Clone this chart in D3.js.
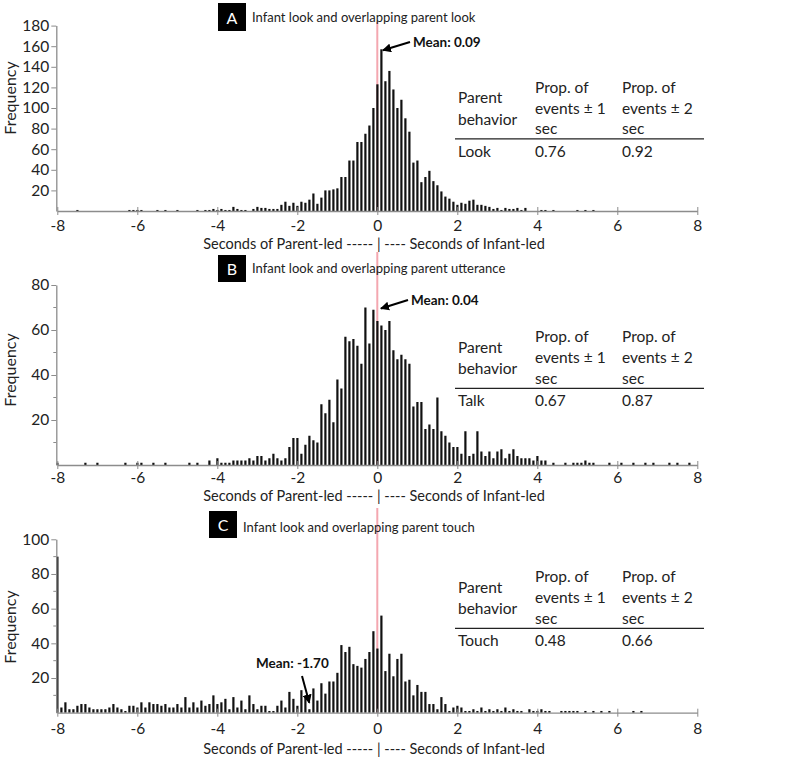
<!DOCTYPE html>
<html><head><meta charset="utf-8">
<script src="https://cdn.jsdelivr.net/npm/d3@7"></script>
<style>
body{margin:0;background:#fff;}
svg{display:block;font-family:Lato,"Open Sans",sans-serif;}
</style>
</head><body>
<svg id="chart" width="800" height="761"></svg>
<script>
// ---- data ----
const binStart = -8.0, binStep = 0.1;   // bins from -8.0 to 8.0 sec
const xTicks = [-8, -6, -4, -2, 0, 2, 4, 6, 8];

const lookFreq = [
  0,0,0,0,0,1,0,0,0,0,
  0,0,0,0,0,0,0,0,1,1,
  1,1,0,0,0,1,0,1,0,0,
  1,0,0,0,0,1,0,1,1,2,
  1,2,1,1,4,2,1,1,0,2,
  4,3,3,2,2,2,6,9,5,8,
  5,9,8,11,17,7,13,20,20,21,
  22,33,33,49,49,67,67,75,83,100,
  123,157,126,136,118,100,108,90,77,47,
  49,28,33,39,29,25,19,14,12,9,
  6,8,7,10,11,6,6,5,4,2,
  3,1,3,2,2,3,1,3,0,0,
  0,1,1,0,1,0,0,0,0,0,
  1,0,1,0,1,0,0,0,0,0,
  0,0,0,0,0,0,0,0,0,0,
  0,0,0,0,0,0,0,0,0,0,
  0
];
const talkFreq = [
  1,0,0,0,0,0,0,1,0,0,
  1,0,0,0,0,0,0,1,0,0,
  1,1,0,0,1,0,0,1,0,0,
  0,0,0,1,0,1,0,0,2,0,
  3,1,1,1,2,2,2,2,3,2,
  4,4,2,3,5,3,2,3,8,12,
  12,5,9,13,11,10,27,23,29,19,
  38,34,57,55,56,53,45,70,54,69,
  64,62,60,64,51,47,49,47,45,26,
  28,28,16,18,16,30,15,13,10,8,
  8,5,15,4,5,15,6,4,6,3,
  6,7,3,5,7,4,3,3,3,2,
  4,2,2,0,1,0,0,1,0,1,
  1,1,2,1,1,0,0,0,1,0,
  0,1,0,0,1,0,0,1,0,1,
  0,0,0,1,0,1,0,0,1,0,
  0
];
const touchFreq = [
  90,3,6,2,2,4,5,5,3,2,
  2,2,2,3,5,3,2,1,4,4,
  3,6,3,6,5,5,4,5,3,3,
  5,3,9,3,6,3,7,4,5,10,
  5,6,8,2,9,3,7,2,10,5,
  2,4,4,1,1,4,7,3,12,8,
  4,13,10,2,14,7,17,11,18,18,
  23,39,35,38,28,27,26,31,35,47,
  37,56,24,34,21,31,34,18,19,10,
  16,12,12,5,5,2,9,5,1,3,
  4,3,1,1,2,1,3,1,2,1,
  2,1,3,1,2,1,1,0,2,1,
  1,2,1,1,0,0,1,1,1,1,
  1,0,1,0,1,0,1,0,1,0,
  0,0,0,0,1,0,1,0,0,0,
  0,0,0,0,0,0,0,0,0,0,
  0
];

const panelLetters = ["A", "B", "C"];
const panelTitles = [
  "Infant look and overlapping parent look",
  "Infant look and overlapping parent utterance",
  "Infant look and overlapping parent touch"
];
const yMaxes = [180, 80, 100];
const yMajorTicks = [
  [20, 40, 60, 80, 100, 120, 140, 160, 180],
  [20, 40, 60, 80],
  [20, 40, 60, 80, 100]
];
const yMinorTicks = [
  [],
  [10, 30, 50, 70],
  [10, 30, 50, 70, 90]
];
const means = [0.09, 0.04, -1.70];
const meanLabels = ["Mean: 0.09", "Mean: 0.04", "Mean: -1.70"];
const meanArrowFreq = [157, 70, 4];
const behaviors = ["Look", "Talk", "Touch"];
const propWithin1 = ["0.76", "0.67", "0.48"];
const propWithin2 = ["0.92", "0.87", "0.66"];
const xAxisLabel = "Seconds of Parent-led ----- | ---- Seconds of Infant-led";

// ---- layout ----
const layout = [
  {base: 211, top: 25.6, box: [218, 3, 28, 28], titleX: 252, titleY: 17, pinkTop: 22,
   freqY: 98, tickDy: 14, xlabY: 243, tableDy: 0,
   meanText: [413, 42], arrowFrom: [410, 42]},
  {base: 465, top: 285, box: [218, 255, 28, 27], titleX: 252, titleY: 268, pinkTop: 252,
   freqY: 370, tickDy: 12, xlabY: 495, tableDy: 249.5,
   meanText: [411, 300], arrowFrom: [408, 300]},
  {base: 712.7, top: 539.3, box: [209, 511, 28, 27], titleX: 243, titleY: 527, pinkTop: 508,
   freqY: 627, tickDy: 15, xlabY: 748, tableDy: 489.5,
   meanText: [256, 663], arrowFrom: [302, 676]}
];
const freqs = [lookFreq, talkFreq, touchFreq];

const svg = d3.select("#chart");
const x = d3.scaleLinear().domain([-8, 8]).range([57.3, 697.3]);

const defs = svg.append("defs");
defs.append("marker").attr("id", "ah").attr("viewBox", "0 0 10 10")
  .attr("refX", 9).attr("refY", 5).attr("markerWidth", 4.5).attr("markerHeight", 4.5)
  .attr("orient", "auto")
  .append("path").attr("d", "M0,0 L10,5 L0,10 z").attr("fill", "#000");

const textCol = "#222";
const axisCol = "#8c8c8c";

freqs.forEach((data, p) => {
  const L = layout[p];
  const g = svg.append("g");
  const y = d3.scaleLinear().domain([0, yMaxes[p]]).range([L.base, L.top]);

  // pink zero line
  g.append("line").attr("x1", x(0)).attr("x2", x(0))
    .attr("y1", L.pinkTop).attr("y2", L.base)
    .attr("stroke", "#f4a7b0").attr("stroke-width", 2);

  // bars
  const bins = data.map((v, i) => ({c: binStart + i * binStep, v}));
  g.selectAll("rect.bar").data(bins.filter(d => d.v > 0)).join("rect")
    .attr("class", "bar")
    .attr("x", d => x(d.c) - 1)
    .attr("width", 2.2)
    .attr("y", d => y(d.v))
    .attr("height", d => L.base - y(d.v))
    .attr("fill", "#111");

  // x axis
  const xa = g.append("g").attr("transform", `translate(0,${L.base})`)
    .call(d3.axisBottom(x).tickValues(xTicks).tickSize(4).tickSizeOuter(0)
      .tickFormat(d => String(d)));
  xa.select(".domain").attr("stroke", axisCol).attr("stroke-width", 1.3);
  xa.selectAll(".tick line").attr("y1", -4).attr("y2", 4).attr("stroke", axisCol);
  xa.selectAll(".tick text").attr("fill", textCol).attr("font-size", 15.5)
    .attr("font-family", "Lato, sans-serif").attr("dy", null)
    .attr("y", L.tickDy).attr("dominant-baseline", "central");

  // y axis
  const ya = g.append("g").attr("transform", `translate(${x(-8) - 1},0)`)
    .call(d3.axisLeft(y).tickValues(yMajorTicks[p]).tickSize(5).tickSizeOuter(0));
  ya.select(".domain").attr("stroke", axisCol).attr("stroke-width", 1.3);
  ya.selectAll(".tick line").attr("stroke", axisCol);
  ya.selectAll(".tick text").attr("fill", textCol).attr("font-size", 15.5)
    .attr("font-family", "Lato, sans-serif").attr("x", -7);
  g.append("g").attr("transform", `translate(${x(-8) - 1},0)`)
    .selectAll("line").data(yMinorTicks[p]).join("line")
    .attr("x1", -3).attr("x2", 0).attr("y1", d => y(d)).attr("y2", d => y(d))
    .attr("stroke", axisCol);

  // axis titles
  g.append("text").attr("transform", `translate(9,${L.freqY}) rotate(-90)`)
    .attr("text-anchor", "middle").attr("dominant-baseline", "central")
    .attr("font-size", 16).attr("fill", textCol).text("Frequency");
  g.append("text").attr("x", 374).attr("y", L.xlabY)
    .attr("text-anchor", "middle").attr("dominant-baseline", "central")
    .attr("font-size", 14.5).attr("fill", textCol).text(xAxisLabel);

  // panel title
  const [bx, by, bw, bh] = L.box;
  g.append("rect").attr("x", bx).attr("y", by).attr("width", bw).attr("height", bh).attr("fill", "#000");
  g.append("text").attr("x", bx + bw / 2).attr("y", by + bh / 2)
    .attr("text-anchor", "middle").attr("dominant-baseline", "central")
    .attr("fill", "#fff").attr("font-size", 16).text(panelLetters[p]);
  g.append("text").attr("x", L.titleX).attr("y", L.titleY)
    .attr("dominant-baseline", "central").attr("font-size", 13).attr("fill", textCol)
    .text(panelTitles[p]);

  // mean annotation
  g.append("line").attr("x1", L.arrowFrom[0]).attr("y1", L.arrowFrom[1])
    .attr("x2", x(means[p]) + (p === 2 ? 0 : 2)).attr("y2", y(meanArrowFreq[p]) + (p === 2 ? -3 : 1))
    .attr("stroke", "#000").attr("stroke-width", 2).attr("marker-end", "url(#ah)");
  g.append("text").attr("x", L.meanText[0]).attr("y", L.meanText[1])
    .attr("dominant-baseline", "central").attr("font-size", 13.5).attr("font-weight", "bold")
    .attr("fill", "#111").text(meanLabels[p]);

  // table
  const t = g.append("g").attr("transform", `translate(0,${L.tableDy})`)
    .attr("font-size", 15.5).attr("fill", textCol);
  const cell = (tx, ty, s) => t.append("text").attr("x", tx).attr("y", ty)
    .attr("dominant-baseline", "central").text(s);
  cell(458, 97, "Parent"); cell(458, 118.5, "behavior");
  cell(535, 86.5, "Prop. of"); cell(535, 107.5, "events \u00b1 1"); cell(535, 128, "sec");
  cell(622, 86.5, "Prop. of"); cell(622, 107.5, "events \u00b1 2"); cell(622, 128, "sec");
  t.append("line").attr("x1", 455).attr("x2", 704).attr("y1", 138.8).attr("y2", 138.8)
    .attr("stroke", "#222").attr("stroke-width", 1.3);
  cell(458, 150.5, behaviors[p]); cell(535, 150.5, propWithin1[p]); cell(622, 150.5, propWithin2[p]);
});
</script>
</body></html>
